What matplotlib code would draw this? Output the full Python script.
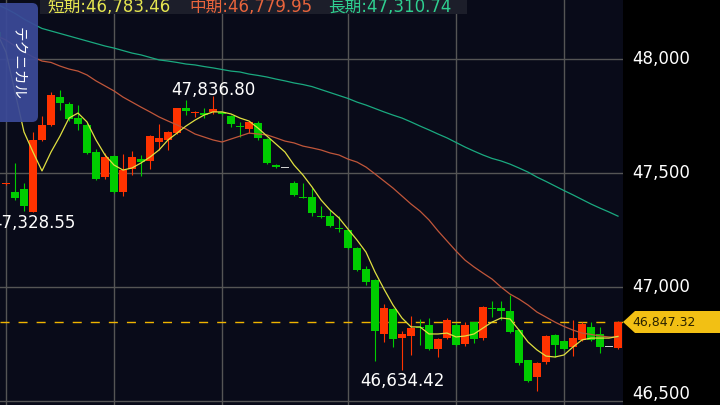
import matplotlib.pyplot as plt
import numpy as np
from matplotlib.patches import FancyBboxPatch, Polygon, Rectangle

plt.rcParams['font.family'] = ['DejaVu Sans', 'Noto Sans CJK JP']

# 足データ（idx -1 は左端で切れている足）
idx = np.arange(-1, 69)
opens = [48120, 47450, 47415, 47428, 47328.55, 47645, 47710, 47835, 47803, 47740,
         47710, 47593, 47484, 47575, 47415, 47516, 47563, 47554, 47637, 47645,
         47674, 47784, 47762, 47762, 47769, 47769, 47750, 47705, 47692, 47719,
         47648, 47535, 47521, 47455, 47393, 47393, 47311, 47311, 47256, 47250,
         47172, 47079, 47031, 46794, 46902, 46775, 46786, 46825, 46833, 46728,
         46778, 46833, 46750, 46845, 46775, 46907, 46909, 46895, 46811, 46678,
         46604, 46672, 46789, 46763, 46738, 46767, 46823, 46793, 46735, 46733]
highs = [48125, 47456, 47542, 47455, 47681, 47750, 47857, 47864, 47813, 47798,
         47719, 47604, 47586, 47580, 47583, 47598, 47579, 47665, 47715, 47684,
         47787, 47820, 47772, 47785, 47836.80, 47772, 47753, 47724, 47728, 47728,
         47652, 47538, 47521, 47466, 47456, 47434, 47355, 47338, 47311, 47255,
         47176, 47092, 47035, 46925, 46906, 46807, 46873, 46860, 46865, 46775,
         46865, 46840, 46847, 46848, 46918, 46940, 46940, 46965, 46815, 46682,
         46671, 46790, 46793, 46766, 46857, 46848, 46845, 46825, 46735, 46850]
lows = [48090, 47447, 47382, 47335, 47328.55, 47640, 47705, 47776, 47730, 47689,
        47585, 47469, 47472, 47413, 47400, 47491, 47488, 47518, 47601, 47601,
        47670, 47754, 47747, 47741, 47758, 47755, 47703, 47659, 47675, 47645,
        47540, 47522, 47521, 47400, 47389, 47313, 47303, 47265, 47243, 47168,
        47071, 47009, 46675, 46757, 46738, 46634.42, 46702, 46746, 46724, 46694,
        46772, 46740, 46743, 46756, 46768, 46867, 46857, 46797, 46660, 46585,
        46544, 46664, 46694, 46723, 46697, 46763, 46763, 46709, 46735, 46730]
closes = [48098, 47452, 47389, 47355, 47645, 47710, 47842, 47806, 47736, 47715,
          47589, 47474, 47571, 47418, 47513, 47569, 47547, 47662, 47652, 47681,
          47784, 47773, 47769, 47754, 47779, 47759, 47715, 47702, 47725, 47652,
          47543, 47525, 47521, 47403, 47390, 47323, 47308, 47269, 47253, 47172,
          47075, 47023, 46808, 46909, 46772, 46794, 46821, 46822, 46728, 46772,
          46855, 46746, 46833, 46772, 46914, 46903, 46896, 46804, 46665, 46589,
          46668, 46786, 46746, 46727, 46775, 46838, 46767, 46738, 46735, 46847.32]

# 移動平均
ma_short = [48115, 48030, 47855, 47680, 47592, 47509, 47592, 47662, 47741, 47763,
            47724, 47645, 47579, 47535, 47513, 47522, 47544, 47570, 47601, 47645,
            47675, 47706, 47732, 47754, 47768, 47768, 47759, 47741, 47728, 47697,
            47662, 47627, 47592, 47535, 47491, 47439, 47382, 47338, 47303, 47254,
            47206, 47153, 47066, 46991, 46921, 46864, 46825, 46825, 46794, 46794,
            46798, 46781, 46785, 46794, 46820, 46846, 46864, 46860, 46811, 46759,
            46724, 46697, 46693, 46702, 46737, 46768, 46776, 46776, 46776, 46783.46]
ma_mid = [48101, 48083, 48057, 48031, 48009, 47991, 47985, 47969, 47956, 47947,
          47930, 47904, 47882, 47860, 47833, 47811, 47789, 47768, 47746, 47728,
          47711, 47693, 47671, 47658, 47645, 47636, 47649, 47662, 47675, 47671,
          47667, 47654, 47640, 47632, 47618, 47610, 47601, 47588, 47579, 47561,
          47548, 47526, 47496, 47465, 47434, 47399, 47364, 47333, 47294, 47246,
          47202, 47158, 47118, 47088, 47061, 47035, 47000, 46969, 46947, 46921,
          46890, 46868, 46846, 46827, 46811, 46798, 46792, 46785, 46781, 46779.95]
ma_long = [48240, 48221, 48200, 48175, 48154, 48134, 48123, 48112, 48101, 48090,
           48079, 48068, 48057, 48048, 48037, 48026, 48018, 48007, 47996, 47991,
           47985, 47978, 47974, 47967, 47961, 47954, 47947, 47943, 47934, 47928,
           47921, 47912, 47904, 47895, 47888, 47879, 47866, 47853, 47840, 47827,
           47811, 47798, 47783, 47768, 47754, 47741, 47724, 47706, 47689, 47671,
           47654, 47634, 47614, 47596, 47579, 47564, 47553, 47539, 47522, 47504,
           47482, 47463, 47443, 47423, 47404, 47384, 47364, 47346, 47329, 47310.74]

price_ticks = [46500, 47000, 47500, 48000]
vgrid_idx = [0, 12, 24, 38, 50, 62]
last_price = 46847.32
hi_pos = 24          # 47,836.80 の足
lo_pos = [4, 45]     # 47,328.55 / 46,634.42 の足
legend_items = [('短期', ma_short[-1], '#e6e650', 47),
                ('中期', ma_mid[-1], '#e8643c', 189),
                ('長期', ma_long[-1], '#2ecf90', 328)]

fig = plt.figure(figsize=(7.2, 4.05), dpi=100, facecolor='black')
ax = fig.add_axes([0, 0, 623 / 720, 1])
ax.set_facecolor('#090b19')
ax.set_xlim(-0.667, 68.556)
ax.set_ylim(46482.5, 48258.8)

for p in price_ticks:
    ax.axhline(p, color='#555555', lw=1.0, zorder=0.5)
for v in vgrid_idx:
    ax.axvline(v, color='#555555', lw=1.0, zorder=0.5)

ax.axhline(last_price, color='#f0b400', lw=1.0, linestyle=(0, (6.5, 6.5)), zorder=1)

o = np.array(opens)
h = np.array(highs)
l = np.array(lows)
c = np.array(closes)
cols = np.where(c > o, '#ff3300', np.where(c < o, '#00cc00', '#d0d0d0'))
body_lo = np.minimum(o, c)
body_h = np.maximum(np.abs(c - o), 4.5)
ax.vlines(idx, l, h, colors=cols, lw=0.8, zorder=2)
ax.bar(idx, body_h, bottom=body_lo, width=0.82, color=cols, zorder=2.1)

ax.plot(idx, ma_long, color='#1aaa80', lw=0.9, zorder=3)
ax.plot(idx, ma_mid, color='#c0563a', lw=0.9, zorder=3)
ax.plot(idx, ma_short, color='#e0e040', lw=0.9, zorder=3.1)

# 高値・安値ラベル
ax.annotate(f'{h[hi_pos]:,.2f}', (idx[hi_pos], h[hi_pos]), xytext=(0, 1),
            textcoords='offset pixels', ha='center', va='baseline',
            color='white', fontsize=12, zorder=5, annotation_clip=False)
for i_lo in lo_pos:
    ax.annotate(f'{l[i_lo]:,.2f}', (idx[i_lo], l[i_lo]), xytext=(0, -2),
                textcoords='offset pixels', ha='center', va='top',
                color='white', fontsize=12, zorder=5, annotation_clip=False)

# 右の価格目盛り（一番下は画面内に収まるよう少し上へ）
for p in price_ticks:
    dy = 7 if p == price_ticks[0] else 0
    ax.annotate(f'{p:,}', (1, p), xycoords=('axes fraction', 'data'),
                xytext=(9, dy), textcoords='offset pixels',
                ha='left', va='center', color='white', fontsize=12,
                annotation_clip=False)
ax.set_xticks([])
ax.set_yticks([])
for s in ax.spines.values():
    s.set_visible(False)

# 上部・左・右の装飾（ピクセル座標）
ov = fig.add_axes([0, 0, 1, 1])
ov.set_xlim(0, 720)
ov.set_ylim(405, 0)
ov.axis('off')

ov.add_patch(Rectangle((40, 0), 427, 13.5, fc='#1c1e2a', ec='none'))
for name, val, col, x0 in legend_items:
    ov.text(x0, 7.5, f'{name}:{val:,.2f}', color=col, fontsize=12,
            ha='left', va='center')

ov.add_patch(FancyBboxPatch((-10, 3), 48, 119, boxstyle='round,pad=0,rounding_size=6',
                            fc='#3b4a99', ec='none', alpha=0.93))
ov.text(18, 64, 'テクニカル', rotation=-90, color='white', fontsize=10.5,
        ha='center', va='center', family=['Noto Sans CJK JP'])

ov.add_patch(Polygon([(623, 322), (635, 311), (722, 311), (722, 333), (635, 333)],
                     closed=True, fc='#f2c014', ec='none'))
ov.text(632, 322.5, f'{last_price:,.2f}', color='#2a2200', fontsize=9,
        ha='left', va='center')

fig.savefig('out.png', dpi=100, facecolor='black')
